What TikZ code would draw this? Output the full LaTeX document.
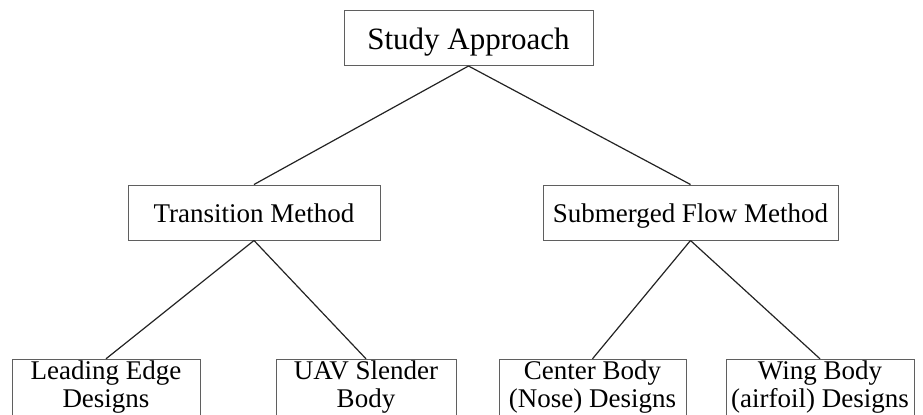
\documentclass[tikz,border=0pt]{standalone}
\usepackage{fontspec}
\setmainfont{Liberation Serif}
\usepackage{tikz}
\definecolor{sagray}{RGB}{95,95,95}
\definecolor{saline}{RGB}{35,35,35}
\tikzstyle{rootbox} = [rectangle, minimum width=124.5pt, minimum height=27.5pt, inner sep=0pt, text centered, text height=13.5pt, text depth=2pt, draw=sagray, line width=0.5pt, font=\fontsize{15.5}{17}\selectfont]
\tikzstyle{methodbox} = [rectangle, minimum height=27.5pt, inner sep=0pt, text centered, text height=12pt, text depth=2.5pt, draw=sagray, line width=0.5pt, font=\fontsize{13.5}{16}\selectfont]
\tikzstyle{designbox} = [rectangle, inner sep=0pt, align=center, text height=23.85pt, text depth=5pt, draw=sagray, line width=0.5pt, font=\fontsize{13.5}{13.6}\selectfont]
\tikzstyle{link} = [line width=0.6pt, color=saline]

\begin{document}
\begin{tikzpicture}[x=0.5pt, y=-0.5pt]
\clip (0,0) rectangle (923,414);
% Top level
\node[rootbox] (study) at (468.5,38) {Study Approach};

% Methods
\node[methodbox, minimum width=126pt] (trans) at (254,212.5) {Transition Method};
\node[methodbox, minimum width=147.5pt] (subm) at (690.5,212.5) {Submerged Flow Method};

% Designs
\node[designbox, minimum width=94pt] (lead) at (106,388.15) {Leading Edge\\Designs};
\node[designbox, minimum width=90pt] (uav) at (366,388.15) {UAV Slender\\Body};
\node[designbox, minimum width=93.5pt] (center) at (592.5,388.15) {Center Body\\(Nose) Designs};
\node[designbox, minimum width=94pt] (wing) at (820,388.15) {Wing Body\\(airfoil) Designs};

\draw[link] (study.south) -- (trans.north);
\draw[link] (study.south) -- (subm.north);
\draw[link] (trans.south) -- (lead.north);
\draw[link] (trans.south) -- (uav.north);
\draw[link] (subm.south) -- (center.north);
\draw[link] (subm.south) -- (wing.north);
\end{tikzpicture}
\end{document}
